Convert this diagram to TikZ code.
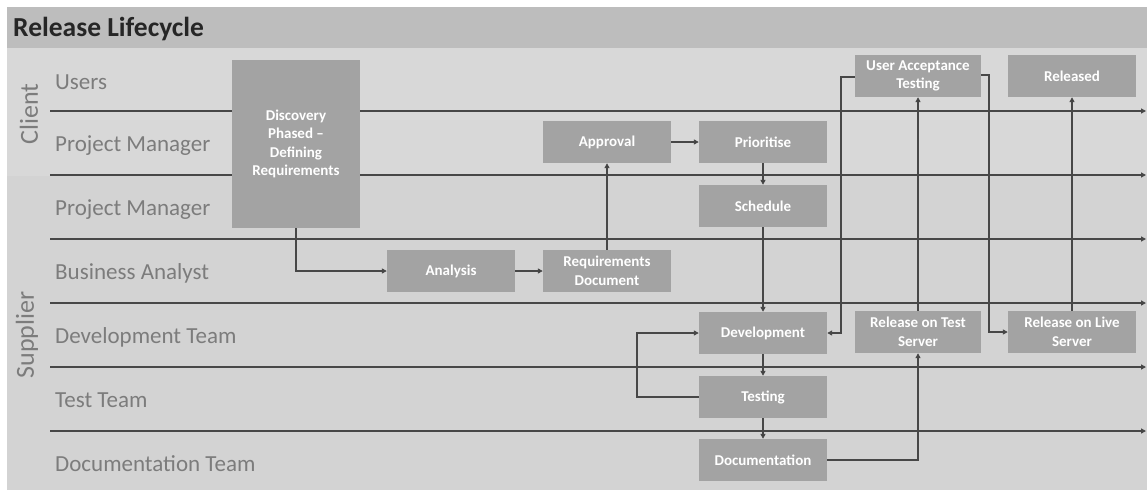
\documentclass[tikz,border=0pt]{standalone}
\usepackage{fontspec}
\setmainfont{Carlito}
\usepackage{tikz}
\usepackage{xcolor}
\usetikzlibrary{
    arrows.meta,
    calc,
    positioning
}

\definecolor{bggray}{HTML}{D3D3D3}
\definecolor{clientgray}{HTML}{D8D8D8}
\definecolor{titlegray}{HTML}{BDBDBD}
\definecolor{boxgray}{HTML}{A3A3A3}
\definecolor{linegray}{HTML}{474747}
\definecolor{lanetext}{HTML}{7C7C7C}

\begin{document}
\begin{tikzpicture}[x=1pt, y=-1pt,
        >={Triangle[length=5pt, width=5pt]},
        stage/.style={fill=boxgray, text=white, minimum width=128, minimum height=42,
            inner sep=0, align=center, font=\fontsize{15}{18.5}\selectfont\bfseries},
        lanename/.style={anchor=west, text=lanetext, inner sep=0, font=\fontsize{23}{27}\selectfont},
        sidename/.style={rotate=90, text=lanetext, inner sep=0, font=\fontsize{26}{30}\selectfont},
        lane/.style={draw=linegray, line width=1.3, ->},
        flow/.style={draw=linegray, line width=1.8, ->}]
                        \useasboundingbox (0, 0) rectangle (1147, 490);
                        \fill[bggray] (7, 176) rectangle (1147, 490);
                        \fill[clientgray] (7, 48) rectangle (1147, 176);
                        \fill[titlegray] (7, 7) rectangle (1147, 48);
                        \node[anchor=west, inner sep=0, text=black!85, font=\fontsize{27.5}{30}\selectfont\bfseries] (title) at (13, 29) {Release Lifecycle};

                        % swim lanes
                        \node[sidename] (client) at (29, 114) {Client};
                        \node[sidename] (supplier) at (27, 335) {Supplier};
                        \node[lanename] (users) at (55, 82) {Users};
                        \node[lanename] (cpm) at (55, 146) {Project Manager};
                        \node[lanename] (spm) at (55, 210) {Project Manager};
                        \node[lanename] (ba) at (55, 273) {Business Analyst};
                        \node[lanename] (devteam) at (55, 337) {Development Team};
                        \node[lanename] (testteam) at (55, 400) {Test Team};
                        \node[lanename] (docteam) at (55, 464) {Documentation Team};
                        \foreach \y in {111, 175, 239, 303, 367, 431}
                            \draw[lane] (50, \y) -- (1146, \y);

                        % stages
                        \node[stage, minimum height=168] (disc) at (296, 144) {Discovery\\Phased --\\Defining\\Requirements};
                        \node[stage] (anal) at (451, 271) {Analysis};
                        \node[stage] (reqdoc) at (607, 271) {Requirements\\Document};
                        \node[stage] (appr) at (607, 142) {Approval};
                        \node[stage] (prio) at (763, 142) {Prioritise};
                        \node[stage] (sched) at (763, 206) {Schedule};
                        \node[stage] (dev) at (763, 333) {Development};
                        \node[stage] (test) at (763, 397) {Testing};
                        \node[stage] (docu) at (763, 460) {Documentation};
                        \node[stage, minimum width=126] (rts) at (918, 332) {Release on Test\\Server};
                        \node[stage, minimum width=126] (uat) at (918, 76) {User Acceptance\\Testing};
                        \node[stage] (rel) at (1072, 76) {Released};
                        \node[stage] (rls) at (1072, 332) {Release on Live\\Server};

                        \coordinate (loop) at (637, 397);
                        \coordinate (uatl) at (841, 77);
                        \coordinate (uatr) at (989, 75);

                        \draw[flow] (disc) |- (anal);
                        \draw[flow] (test.west) -- (loop) |- (dev.west);
                        \draw[flow] (docu) -| (rts);
                        \draw[flow] (uat.west |- uatl) -- (uatl) |- (dev.east);
                        \draw[flow] (uat.east |- uatr) -- (uatr) |- (rls.west);
                        \draw[flow]
                        (anal) edge (reqdoc)
                        (reqdoc) edge (appr)
                        (appr) edge (prio)
                        (prio) edge (sched)
                        (sched) edge (dev)
                        (dev) edge (test)
                        (test) edge (docu)
                        (rts) edge (uat)
                        (rls) edge (rel);
                    \end{tikzpicture}
\end{document}
